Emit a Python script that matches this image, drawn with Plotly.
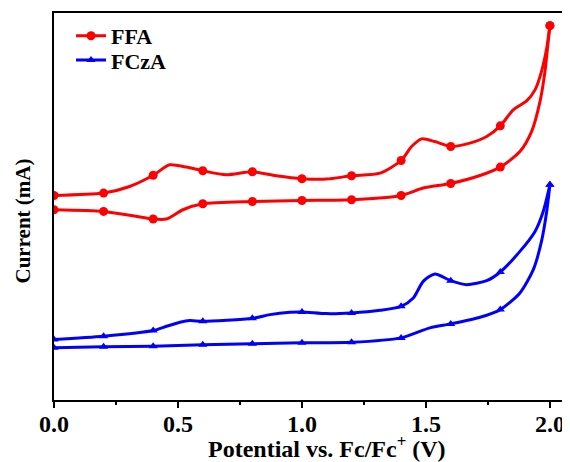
import numpy as np
import plotly.graph_objects as go

# ---- data (potential in V, current in arbitrary mA units) ----
ffa_fwd_v = [0.0, 0.2, 0.305, 0.4, 0.466, 0.534, 0.6, 0.695, 0.8, 0.896, 1.0, 1.1, 1.2, 1.315,
             1.4, 1.442, 1.483, 1.536, 1.6, 1.677, 1.745, 1.8, 1.852, 1.906, 1.94, 1.966, 1.987, 2.0]
ffa_fwd_i = [2.048, 2.072, 2.138, 2.25, 2.355, 2.332, 2.295, 2.255, 2.285, 2.245, 2.215, 2.212, 2.245, 2.272,
             2.398, 2.538, 2.615, 2.588, 2.538, 2.572, 2.638, 2.745, 2.905, 2.995, 3.105, 3.288, 3.522, 3.748]

ffa_rev_v = [0.0, 0.2, 0.319, 0.4, 0.453, 0.52, 0.6, 0.8, 1.0, 1.2, 1.4, 1.489, 1.6, 1.718,
             1.8, 1.879, 1.926, 1.96, 1.98, 1.993, 2.0]
ffa_rev_i = [1.905, 1.888, 1.845, 1.812, 1.812, 1.905, 1.965, 1.988, 1.998, 2.005, 2.048, 2.122, 2.168, 2.248,
             2.332, 2.488, 2.688, 2.988, 3.288, 3.588, 3.748]

fcza_fwd_v = [0.0, 0.2, 0.4, 0.454, 0.508, 0.548, 0.6, 0.8, 0.871, 0.952, 1.0, 1.1, 1.2, 1.315,
              1.4, 1.449, 1.489, 1.536, 1.6, 1.664, 1.745, 1.8, 1.879, 1.94, 1.973, 2.0]
fcza_fwd_i = [0.605, 0.638, 0.695, 0.738, 0.778, 0.795, 0.788, 0.818, 0.855, 0.878, 0.882, 0.865, 0.872, 0.898,
              0.938, 1.022, 1.188, 1.262, 1.195, 1.155, 1.195, 1.282, 1.488, 1.688, 1.888, 2.155]

fcza_rev_v = [0.0, 0.2, 0.4, 0.6, 0.8, 1.0, 1.2, 1.4, 1.516, 1.6, 1.718, 1.8, 1.879, 1.933, 1.966, 1.987, 2.0]
fcza_rev_i = [0.522, 0.532, 0.538, 0.552, 0.562, 0.572, 0.578, 0.622, 0.722, 0.762, 0.828, 0.905, 1.072,
              1.305, 1.588, 1.888, 2.155]

x_ticks = [0.0, 0.5, 1.0, 1.5, 2.0]
x_tick_labels = ["0.0", "0.5", "1.0", "1.5", "2.0"]
series = [
    ("FFA", "#ff0000", "circle", 9, "legend", [(ffa_fwd_v, ffa_fwd_i), (ffa_rev_v, ffa_rev_i)]),
    ("FCzA", "#0000ff", "triangle-up", 8, "legend2", [(fcza_fwd_v, fcza_fwd_i), (fcza_rev_v, fcza_rev_i)]),
]

FONT = "Liberation Serif, Times New Roman, serif"

fig = go.Figure()
for name, color, symbol, msize, leg, branches in series:
    for v, i in branches:
        fig.add_trace(go.Scatter(x=v, y=i, mode="lines",
                                 line=dict(color=color, width=3, shape="spline", smoothing=0.7),
                                 showlegend=False, legendgroup=name, hoverinfo="skip"))
        va = np.array(v)
        ia = np.array(i)
        mask = np.isclose(va * 5, np.round(va * 5))
        fig.add_trace(go.Scatter(x=va[mask], y=ia[mask], mode="markers",
                                 marker=dict(color=color, symbol=symbol, size=msize),
                                 showlegend=False, legendgroup=name))
    fig.add_trace(go.Scatter(x=[None], y=[None], mode="lines+markers", name=name,
                             line=dict(color=color, width=3), legend=leg,
                             marker=dict(color=color, symbol=symbol, size=msize), legendgroup=name))

# page body has an 8px margin, so the figure is 8px smaller than the window
leg_font = dict(family=FONT, size=22, color="black", weight="bold")
fig.update_layout(
    width=562, height=454,
    margin=dict(l=46, r=0, t=5, b=62, autoexpand=False),
    plot_bgcolor="white", paper_bgcolor="white",
    font=dict(family=FONT, size=20, color="black"),
    showlegend=True,
    legend=dict(x=0.033, y=0.995, xanchor="left", yanchor="top", bgcolor="rgba(0,0,0,0)",
                font=leg_font, tracegroupgap=0),
    legend2=dict(x=0.033, y=0.932, xanchor="left", yanchor="top", bgcolor="rgba(0,0,0,0)",
                 font=leg_font, tracegroupgap=0),
    xaxis=dict(range=[0, 2.081], showline=True, linecolor="black", linewidth=2, mirror=True,
               automargin=False,
               tickmode="array", tickvals=x_ticks, ticktext=x_tick_labels,
               ticks="outside", ticklen=6, tickwidth=2, tickcolor="black", ticklabelstandoff=-5,
               minor=dict(dtick=0.25, ticks="outside", ticklen=3, tickwidth=2, tickcolor="black", tick0=0),
               tickfont=dict(family=FONT, size=24, color="black", weight="bold"),
               showgrid=False, zeroline=False),
    yaxis=dict(range=[0, 3.875], showline=True, linecolor="black", linewidth=2, mirror=False,
               automargin=False,
               showticklabels=False, ticks="", showgrid=False, zeroline=False),
    annotations=[
        dict(text="Potential vs. Fc/Fc<sup>+</sup> (V)", xref="paper", yref="paper",
             x=(327 - 54) / 516, y=-(447 - 400.5) / 387, xanchor="center", yanchor="middle",
             showarrow=False, font=dict(family=FONT, size=24, color="black", weight="bold")),
        dict(text="Current (mA)", xref="paper", yref="paper", textangle=-90,
             x=-(54 - 22) / 516, y=(400.5 - 222) / 387, xanchor="center", yanchor="middle",
             showarrow=False, font=dict(family=FONT, size=21, color="black", weight="bold")),
    ],
)

fig.write_html("out.html")
